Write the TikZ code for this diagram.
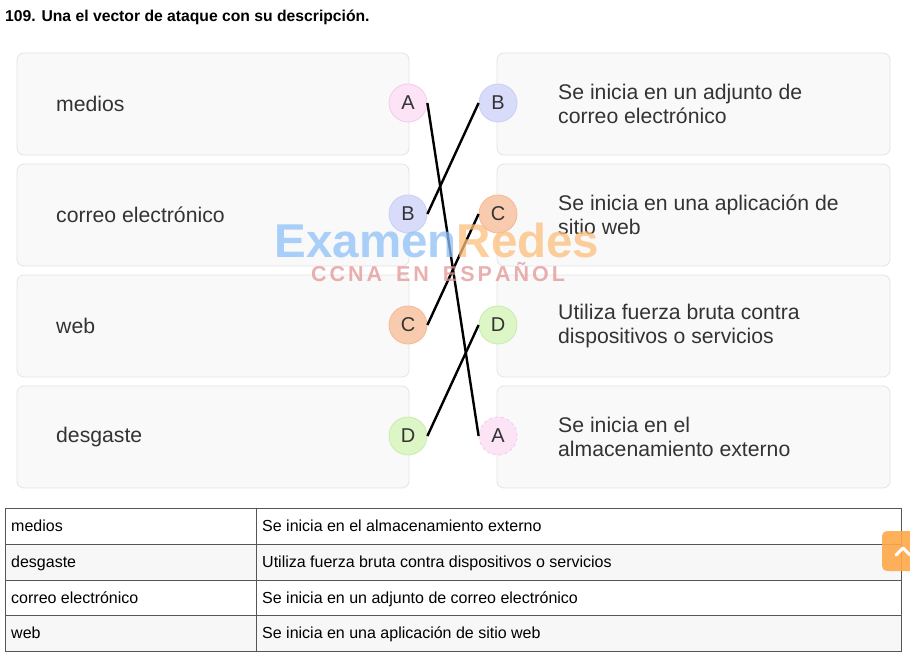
\documentclass[tikz,border=0pt]{standalone}
\usepackage{fontspec}
\setmainfont{Liberation Sans}
\begin{document}
\begin{tikzpicture}[x=1pt,y=-1pt,
  card/.style={draw=cardline,fill=cardfill,rounded corners=7pt,line width=0.8pt},
  bub/.style={circle,minimum size=38pt,inner sep=0pt,line width=0.8pt,font=\fontsize{20}{20}\selectfont,text=txt},
  ltxt/.style={anchor=west,inner sep=0pt,font=\fontsize{21.2}{24.5}\selectfont,text=txt,align=left},
  link/.style={line width=2.4pt,black},
  cell/.style={anchor=base west,inner sep=0pt,font=\fontsize{16}{18}\selectfont,text=black}]
\definecolor{cardline}{HTML}{E4E4E4}
\definecolor{cardfill}{HTML}{F9F9F9}
\definecolor{txt}{HTML}{333333}
\definecolor{pinkf}{HTML}{FCE3F6}\definecolor{pinkd}{HTML}{F2CBEC}
\definecolor{lavf}{HTML}{D8DCFA}\definecolor{lavd}{HTML}{C9CFF5}
\definecolor{peaf}{HTML}{F9CBAE}\definecolor{pead}{HTML}{F4B995}
\definecolor{grnf}{HTML}{DDF6C6}\definecolor{grnd}{HTML}{C7EDAE}
\definecolor{tline}{HTML}{555555}
\definecolor{rowg}{HTML}{F7F7F7}
\definecolor{wmblue}{HTML}{8FC0F7}
\definecolor{wmorange}{HTML}{FBBF7C}
\definecolor{wmred}{HTML}{E39595}
\definecolor{btn}{HTML}{FFA84A}
\useasboundingbox (0,0) rectangle (910,658);
\fill[white] (0,0) rectangle (910,658);
% title
\node[anchor=base west,inner sep=0pt,font=\fontsize{15.7}{18}\selectfont\bfseries] (title) at (5,22) {109. Una el vector de ataque con su descripción.};
% cards
\foreach \y/\n in {53/1,164/2,275/3,386/4}{
  \draw[card] (17,\y) rectangle (409,\y+102);
  \draw[card] (497,\y) rectangle (890,\y+102);
}
% left texts
\node[ltxt] (t1) at (56,104) {medios};
\node[ltxt] (t2) at (56,215) {correo electrónico};
\node[ltxt] (t3) at (56,326) {web};
\node[ltxt] (t4) at (56,437) {desgaste};
% right texts
\node[ltxt] (d1) at (558,104) {Se inicia en un adjunto de\\correo electrónico};
\node[ltxt] (d2) at (558,215) {Se inicia en una aplicación de\\sitio web};
\node[ltxt] (d3) at (558,326) {Utiliza fuerza bruta contra\\dispositivos o servicios};
\node[ltxt] (d4) at (558,437) {Se inicia en el\\almacenamiento externo};
% bubbles
\node[bub,fill=pinkf,draw=pinkd] (lA) at (408,103) {A};
\node[bub,fill=lavf,draw=lavd] (lB) at (408,214) {B};
\node[bub,fill=peaf,draw=pead] (lC) at (408,325) {C};
\node[bub,fill=grnf,draw=grnd] (lD) at (408,436) {D};
\node[bub,fill=lavf,draw=lavd] (rB) at (498,103) {B};
\node[bub,fill=peaf,draw=pead] (rC) at (498,214) {C};
\node[bub,fill=grnf,draw=grnd] (rD) at (498,325) {D};
\node[bub,fill=pinkf,draw=pinkd,dashed] (rA) at (498,436) {A};
% links
\draw[link] (lA.east) -- (rA.west);
\draw[link] (lB.east) -- (rB.west);
\draw[link] (lC.east) -- (rC.west);
\draw[link] (lD.east) -- (rD.west);
% watermark
\node[anchor=base,font=\fontsize{47.5}{47.5}\selectfont\bfseries,opacity=0.75,inner sep=0pt] (wm) at (437,257)
  {\textcolor{wmblue}{Examen}\textcolor{wmorange}{Redes}};
\node[anchor=base,font=\fontsize{21.5}{21.5}\selectfont\bfseries,text=wmred,opacity=0.75,inner sep=0pt] (wm2) at (438,281)
  {C\kern3ptC\kern3ptN\kern3ptA\kern14ptE\kern3ptN\kern14ptE\kern3ptS\kern3ptP\kern3ptA\kern3ptÑ\kern3ptO\kern3ptL};
% table
\fill[rowg] (5,544) rectangle (901,580);
\fill[rowg] (5,615) rectangle (901,651);
\draw[tline,line width=0.9pt] (5,508) rectangle (901,651);
\foreach \y in {544,580,615}{\draw[tline,line width=0.9pt] (5,\y) -- (901,\y);}
\draw[tline,line width=0.9pt] (256,508) -- (256,651);
\node[cell] (c11) at (11,531.5) {medios};
\node[cell] (c12) at (262,531.5) {Se inicia en el almacenamiento externo};
\node[cell] (c21) at (11,567.5) {desgaste};
\node[cell] (c22) at (262,567.5) {Utiliza fuerza bruta contra dispositivos o servicios};
\node[cell] (c31) at (11,603.5) {correo electrónico};
\node[cell] (c32) at (262,603.5) {Se inicia en un adjunto de correo electrónico};
\node[cell] (c41) at (11,638.5) {web};
\node[cell] (c42) at (262,638.5) {Se inicia en una aplicación de sitio web};
% scroll button
\fill[btn,opacity=0.9,rounded corners=5pt] (882,531) rectangle (918,571);
\draw[white,line width=3pt,line cap=round,line join=round] (896,555) -- (903,548) -- (910,555);
\end{tikzpicture}
\end{document}
